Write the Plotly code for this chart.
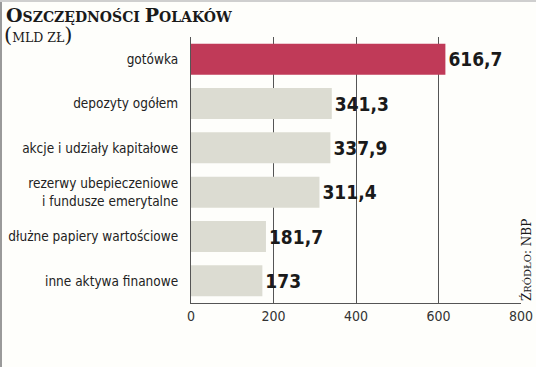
import plotly.graph_objects as go

categories = [
    "gotówka",
    "depozyty ogółem",
    "akcje i udziały kapitałowe",
    "rezerwy ubepieczeniowe<br>i fundusze emerytalne",
    "dłużne papiery wartościowe",
    "inne aktywa finanowe",
]
values = [616.7, 341.3, 337.9, 311.4, 181.7, 173]
x_ticks = [0, 200, 400, 600, 800]

highlight = "#c03a58"
grey_bar = "#dcdcd2"
bar_colors = [highlight] + [grey_bar] * (len(values) - 1)

def fmt(v):
    s = ("%.1f" % v).replace(".", ",")
    return s[:-2] if s.endswith(",0") else s

labels = [fmt(v) for v in values]

NARROW = "DejaVu Sans Condensed, Liberation Sans Narrow, sans-serif"
SERIF = "DejaVu Serif, Liberation Serif, serif"

fig = go.Figure(go.Bar(
    x=values,
    y=categories,
    orientation="h",
    marker=dict(color=bar_colors, line=dict(width=0)),
    width=0.7,
    text=labels,
    textposition="outside",
    cliponaxis=False,
    textfont=dict(family=NARROW, size=19, color="#1a1a1a", weight="bold"),
    hoverinfo="skip",
))

fig.update_layout(
    width=536,
    height=367,
    margin=dict(l=191, r=15, t=37, b=64, autoexpand=False),
    paper_bgcolor="#fefefb",
    plot_bgcolor="#fefefb",
    showlegend=False,
    bargap=0.3,
    font=dict(family=NARROW, color="#222222"),
)

fig.update_xaxes(
    range=[0, 800],
    tickvals=x_ticks,
    ticktext=[str(t) for t in x_ticks],
    showgrid=True,
    gridcolor="#555555",
    gridwidth=1.3,
    zeroline=False,
    showline=True,
    linecolor="#555555",
    linewidth=1.3,
    ticks="",
    automargin=False,
    tickfont=dict(family=NARROW, size=14, color="#333333"),
    fixedrange=True,
)
fig.update_yaxes(
    range=[5.5, -0.5],
    showgrid=False,
    zeroline=False,
    showline=True,
    linecolor="#555555",
    linewidth=1.3,
    ticks="",
    automargin=False,
    ticklabelstandoff=9,
    tickfont=dict(family=NARROW, size=13.5, color="#222222"),
    fixedrange=True,
)

title_html = (
    "<span style='font-size:19px'>O</span>SZCZĘDNOŚCI "
    "<span style='font-size:19px'>P</span>OLAKÓW"
)
fig.add_annotation(
    text=title_html, xref="paper", yref="paper",
    x=-187 / 330, y=1.0 + 35 / 266, xanchor="left", yanchor="top",
    showarrow=False, font=dict(family=SERIF, size=14, color="#1a1a1a", weight="bold"),
)
fig.add_annotation(
    text="<span style='font-size:21px'>(</span>MLD ZŁ<span style='font-size:21px'>)</span>",
    xref="paper", yref="paper",
    x=-189 / 330, y=1.0 + 16 / 266, xanchor="left", yanchor="top",
    showarrow=False, font=dict(family=SERIF, size=12.5, color="#1a1a1a"),
)
fig.add_annotation(
    text="Ź<span style='font-size:10px'>RÓDŁO</span>: NBP",
    xref="paper", yref="paper",
    x=1.0 + 5 / 330, y=0.0, xanchor="center", yanchor="bottom",
    textangle=-90,
    showarrow=False, font=dict(family=SERIF, size=12, color="#1a1a1a"),
)

# thin grey frame edges of the original clipping
fig.add_shape(type="rect", xref="paper", yref="paper",
              x0=-191 / 330, x1=-189 / 330, y0=-64 / 266, y1=1 + 37 / 266,
              line=dict(width=0), fillcolor="#9a9a9a", layer="above")
fig.add_shape(type="rect", xref="paper", yref="paper",
              x0=-191 / 330, x1=1 + 15 / 330, y0=1 + 35 / 266, y1=1 + 37 / 266,
              line=dict(width=0), fillcolor="#cfcfcf", layer="above")

fig.write_html("out.html")
